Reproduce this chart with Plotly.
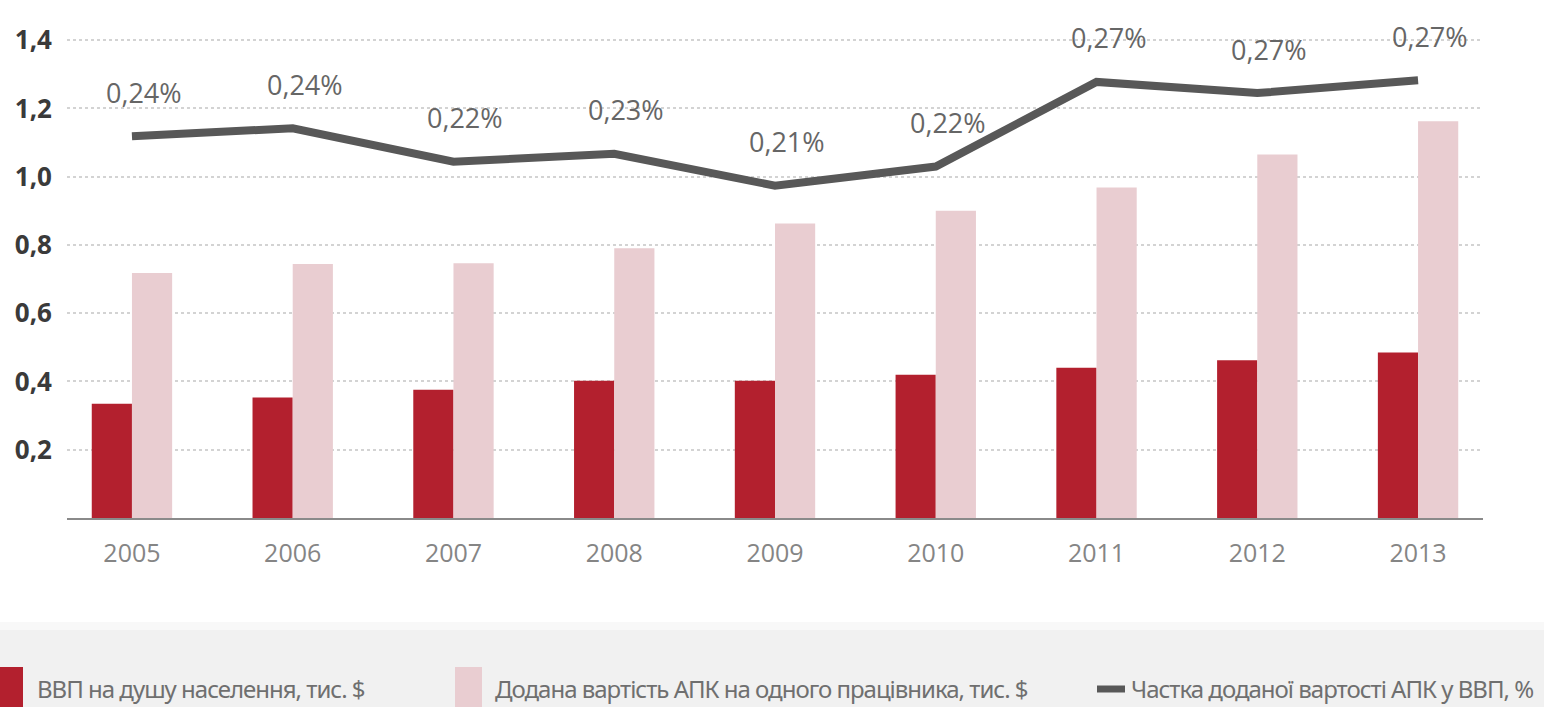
import plotly.graph_objects as go

# Data
years = ["2005", "2006", "2007", "2008", "2009", "2010", "2011", "2012", "2013"]
gdp_per_capita = [0.335, 0.353, 0.376, 0.402, 0.402, 0.420, 0.440, 0.462, 0.485]      # тис. $
agro_value_per_worker = [0.718, 0.744, 0.746, 0.790, 0.863, 0.900, 0.968, 1.065, 1.162]  # тис. $
agro_share_gdp = [0.239, 0.244, 0.223, 0.228, 0.208, 0.220, 0.273, 0.266, 0.274]       # %

y_ticks = [0.2, 0.4, 0.6, 0.8, 1.0, 1.2, 1.4]
y_tick_labels = ["0,2", "0,4", "0,6", "0,8", "1,0", "1,2", "1,4"]

legend_labels = [
    "ВВП на душу населення, тис. $",
    "Додана вартість АПК на одного працівника, тис. $",
    "Частка доданої вартості АПК у ВВП, %",
]

# Styling
DARK_RED = "#b3202e"
PINK = "#e9cdd1"
LINE_GREY = "#585858"
FIG_W, FIG_H = 1544, 707
L, R, T, B = 67, 1483, 6, 518          # plot area in pixels
Y_MAX = 1.5
SHARE_SCALE = 4.68                     # share axis scale relative to primary axis

def px(x):
    return (x - L) / (R - L)

def py(y):
    return (B - y) / (B - T)

fig = go.Figure()

fig.add_trace(go.Bar(
    x=years, y=gdp_per_capita, name=legend_labels[0],
    marker=dict(color=DARK_RED, line=dict(width=0)),
))
fig.add_trace(go.Bar(
    x=years, y=agro_value_per_worker, name=legend_labels[1],
    marker=dict(color=PINK, line=dict(width=0)),
))
fig.add_trace(go.Scatter(
    x=years, y=agro_share_gdp, name=legend_labels[2], yaxis="y2",
    mode="lines", line=dict(color=LINE_GREY, width=8),
))

annotations = []
# Percentage labels above the share line (category index on x, primary-axis units on y)
for i, v in enumerate(agro_share_gdp):
    annotations.append(dict(
        x=i, y=v * SHARE_SCALE, xref="x", yref="y",
        text=f"{v:.2f}".replace(".", ",") + "%",
        showarrow=False, xshift=12, yshift=44,
        font=dict(family="Open Sans", size=27, color="#666666"),
    ))

shapes = []
# Grey legend band across the bottom
shapes.append(dict(type="rect", xref="paper", yref="paper", layer="below",
                   x0=px(0), x1=px(FIG_W), y0=py(622), y1=py(631),
                   fillcolor="#f8f8f8", line=dict(width=0)))
shapes.append(dict(type="rect", xref="paper", yref="paper", layer="below",
                   x0=px(0), x1=px(FIG_W), y0=py(630), y1=py(FIG_H + 2),
                   fillcolor="#f1f1f1", line=dict(width=0)))

# Legend swatches
shapes.append(dict(type="rect", xref="paper", yref="paper",
                   x0=px(0), x1=px(23), y0=py(667), y1=py(FIG_H + 2),
                   fillcolor=DARK_RED, line=dict(width=0)))
shapes.append(dict(type="rect", xref="paper", yref="paper",
                   x0=px(455), x1=px(482), y0=py(667), y1=py(FIG_H + 2),
                   fillcolor=PINK, line=dict(width=0)))
shapes.append(dict(type="line", xref="paper", yref="paper",
                   x0=px(1097), x1=px(1125), y0=py(689), y1=py(689),
                   line=dict(color=LINE_GREY, width=7)))

legend_font = dict(family="Noto Sans", size=24, color="#6f6f6f")
for text, x0 in zip(legend_labels, [35, 493, 1129]):
    annotations.append(dict(
        x=px(x0), y=py(688), xref="paper", yref="paper",
        xanchor="left", yanchor="middle",
        text=f'<span style="letter-spacing:-1px">{text}</span>',
        showarrow=False, font=legend_font,
    ))

fig.update_layout(
    width=FIG_W, height=FIG_H,
    margin=dict(l=L, r=FIG_W - R, t=T, b=FIG_H - B, pad=0),
    paper_bgcolor="white", plot_bgcolor="white",
    barmode="group", bargap=0.5, bargroupgap=0,
    showlegend=False,
    xaxis=dict(
        type="category", range=[-0.404, 8.404],
        showgrid=False, zeroline=False,
        showline=True, linecolor="#8a8a8a", linewidth=2,
        ticks="", ticklabelstandoff=12,
        tickfont=dict(family="Open Sans", size=25, color="#858585"),
    ),
    yaxis=dict(
        range=[0, Y_MAX], tickvals=y_ticks, ticktext=y_tick_labels,
        showgrid=True, gridcolor="#d3d3d3", gridwidth=2, griddash="dot",
        zeroline=False, showline=False, ticks="", ticklabelstandoff=14,
        tickfont=dict(family="Open Sans", size=26, color="#3a3a3a", weight=700),
    ),
    yaxis2=dict(
        range=[0, Y_MAX / SHARE_SCALE], overlaying="y", side="right",
        showticklabels=False, showgrid=False, zeroline=False, showline=False,
    ),
    shapes=shapes,
    annotations=annotations,
)

fig.write_html("out.html")
